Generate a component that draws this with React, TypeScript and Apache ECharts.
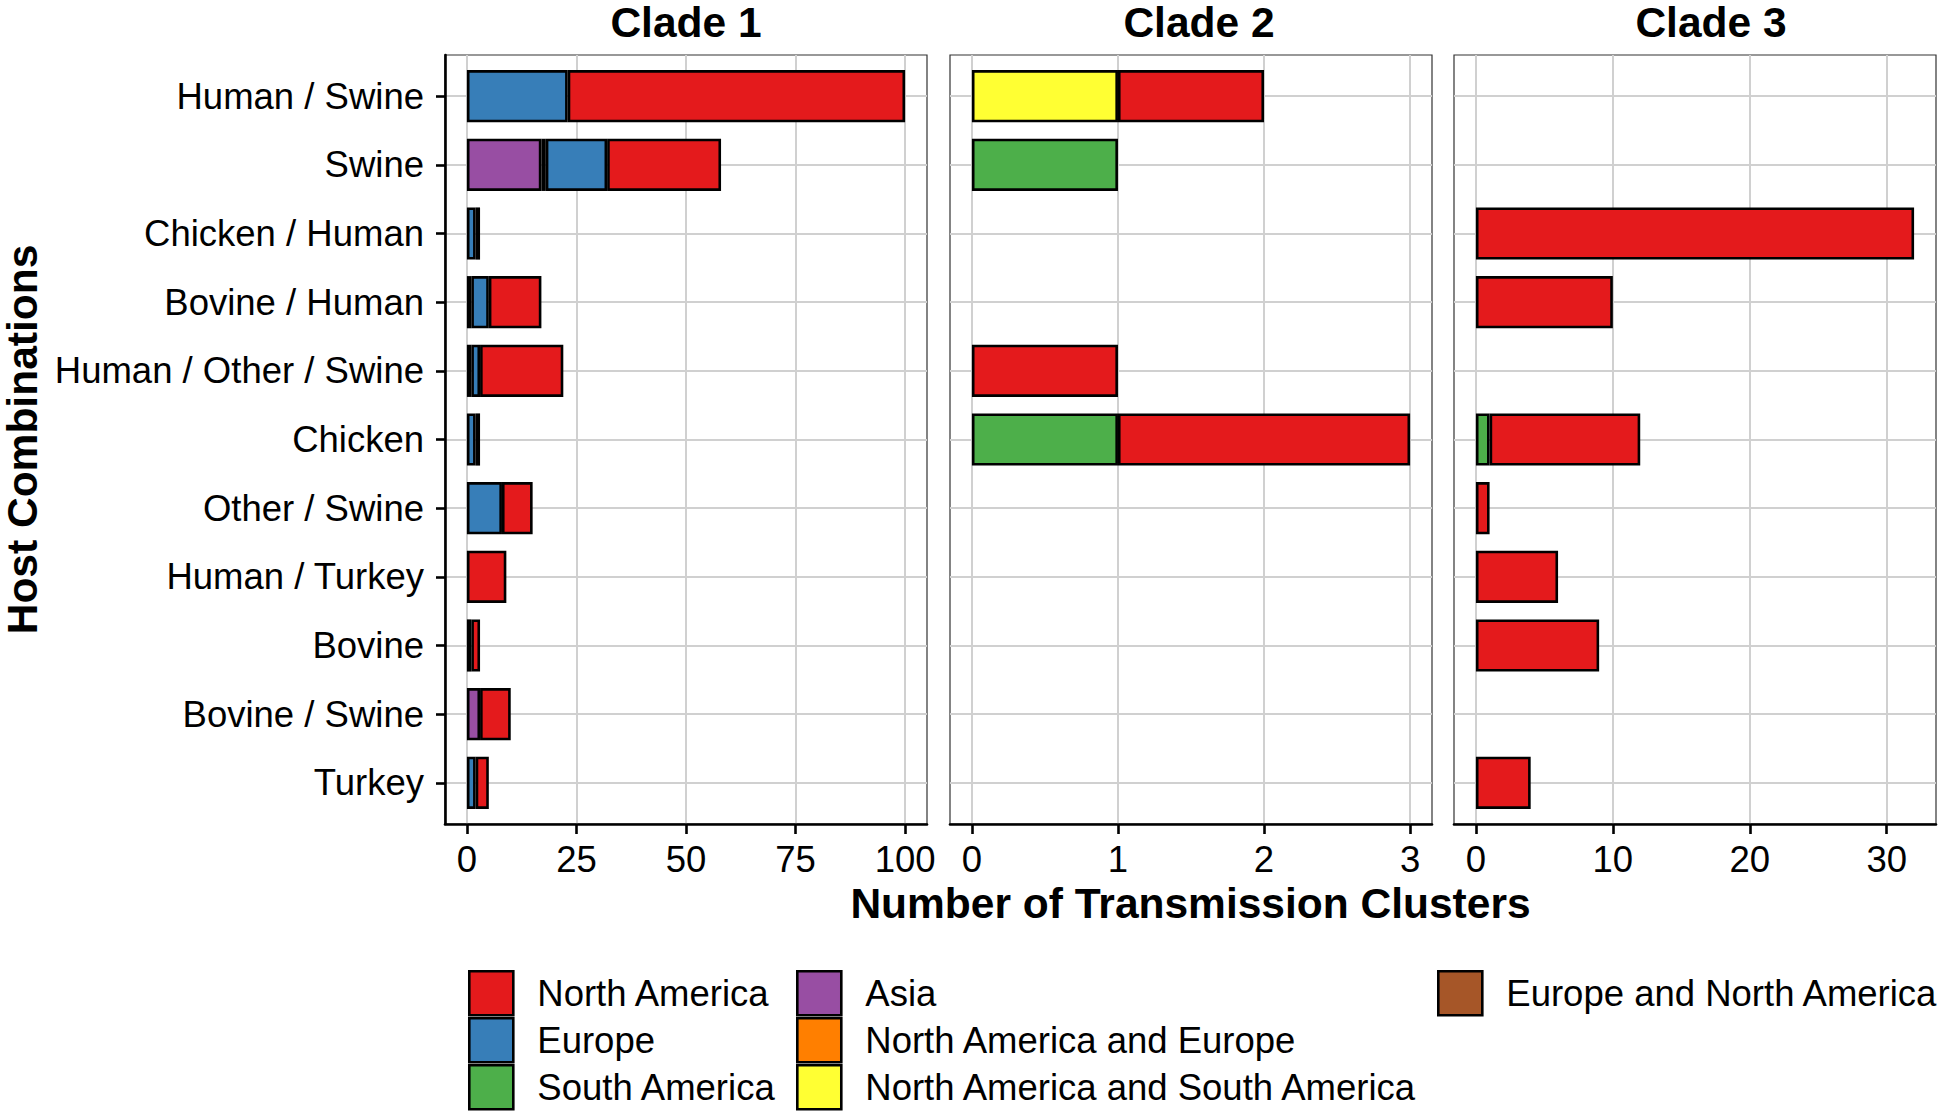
import React, { useEffect, useRef } from 'react';
import * as echarts from 'echarts';

// ---------- data ----------
const categories = [
  'Human / Swine',
  'Swine',
  'Chicken / Human',
  'Bovine / Human',
  'Human / Other / Swine',
  'Chicken',
  'Other / Swine',
  'Human / Turkey',
  'Bovine',
  'Bovine / Swine',
  'Turkey',
];

const regions = [
  'North America',
  'Europe',
  'South America',
  'Asia',
  'North America and Europe',
  'North America and South America',
  'Europe and North America',
];
const regionColors = ['#E41A1C', '#377EB8', '#4DAF4A', '#984EA3', '#FF7F00', '#FFFF33', '#A65628'];

const cladeNames = ['Clade 1', 'Clade 2', 'Clade 3'];

// Clade 1 (order of categories above)
const clade1NorthAmerica = [77, 26, 1, 12, 19, 1, 7, 9, 2, 7, 3];
const clade1Europe = [23, 14, 2, 4, 2, 2, 8, 0, 0, 0, 2];
const clade1SouthAmerica = [0, 1, 0, 0, 0, 0, 0, 0, 0, 0, 0];
const clade1Asia = [0, 17, 0, 0, 0, 0, 0, 0, 1, 3, 0];
const clade1NAEurope = [0, 0, 0, 0, 0, 0, 0, 0, 0, 0, 0];
const clade1NASouthAmerica = [0, 0, 0, 0, 0, 0, 0, 0, 0, 0, 0];
const clade1EuropeNA = [0, 0, 0, 1, 1, 0, 0, 0, 0, 0, 0];

// Clade 2
const clade2NorthAmerica = [1, 0, 0, 0, 1, 2, 0, 0, 0, 0, 0];
const clade2Europe = [0, 0, 0, 0, 0, 0, 0, 0, 0, 0, 0];
const clade2SouthAmerica = [0, 1, 0, 0, 0, 1, 0, 0, 0, 0, 0];
const clade2Asia = [0, 0, 0, 0, 0, 0, 0, 0, 0, 0, 0];
const clade2NAEurope = [0, 0, 0, 0, 0, 0, 0, 0, 0, 0, 0];
const clade2NASouthAmerica = [1, 0, 0, 0, 0, 0, 0, 0, 0, 0, 0];
const clade2EuropeNA = [0, 0, 0, 0, 0, 0, 0, 0, 0, 0, 0];

// Clade 3
const clade3NorthAmerica = [0, 0, 32, 10, 0, 11, 1, 6, 9, 0, 4];
const clade3Europe = [0, 0, 0, 0, 0, 0, 0, 0, 0, 0, 0];
const clade3SouthAmerica = [0, 0, 0, 0, 0, 1, 0, 0, 0, 0, 0];
const clade3Asia = [0, 0, 0, 0, 0, 0, 0, 0, 0, 0, 0];
const clade3NAEurope = [0, 0, 0, 0, 0, 0, 0, 0, 0, 0, 0];
const clade3NASouthAmerica = [0, 0, 0, 0, 0, 0, 0, 0, 0, 0, 0];
const clade3EuropeNA = [0, 0, 0, 0, 0, 0, 0, 0, 0, 0, 0];

const clade1Ticks = [0, 25, 50, 75, 100];
const clade2Ticks = [0, 1, 2, 3];
const clade3Ticks = [0, 10, 20, 30];

const xAxisTitle = 'Number of Transmission Clusters';
const yAxisTitle = 'Host Combinations';

// ---------- assembly ----------
const cladeData = [
  [clade1NorthAmerica, clade1Europe, clade1SouthAmerica, clade1Asia, clade1NAEurope, clade1NASouthAmerica, clade1EuropeNA],
  [clade2NorthAmerica, clade2Europe, clade2SouthAmerica, clade2Asia, clade2NAEurope, clade2NASouthAmerica, clade2EuropeNA],
  [clade3NorthAmerica, clade3Europe, clade3SouthAmerica, clade3Asia, clade3NAEurope, clade3NASouthAmerica, clade3EuropeNA],
];
const cladeTicks = [clade1Ticks, clade2Ticks, clade3Ticks];

const FONT = '"Liberation Sans", Arial, Helvetica, sans-serif';
const TEXT_SIZE = 36.5;
const TITLE_SIZE = 42.5;
const panelLeft = [445, 950, 1454];
const panelWidth = 482;
const panelTop = 55;
const panelHeight = 769;
const band = panelHeight / (categories.length - 1 + 1.2);
const gridColor = '#d0d0d0';
const titleCenters = [686, 1199, 1711];

function buildOption() {
  const grid: any[] = [];
  const xAxis: any[] = [];
  const yAxis: any[] = [];
  const series: any[] = [];
  const catIdx = categories.map((_, i) => i);

  panelLeft.forEach((l) => {
    grid.push({
      left: l, top: panelTop, width: panelWidth, height: panelHeight,
      show: true, borderColor: '#333333', borderWidth: 1.2, backgroundColor: 'transparent',
      containLabel: false, outerBoundsMode: 'none',
    });
  });
  panelLeft.forEach((l) => {
    grid.push({
      left: l, top: panelTop + 0.1 * band, width: panelWidth, height: band * categories.length,
      show: false, containLabel: false, outerBoundsMode: 'none',
    });
  });

  cladeData.forEach((regionsData, k) => {
    const totals = categories.map((_, i) => regionsData.reduce((s, arr) => s + arr[i], 0));
    const maxTotal = Math.max(...totals);
    const min = -0.05 * maxTotal;
    const max = maxTotal * 1.05;
    const ticks = cladeTicks[k];

    xAxis.push({
      type: 'value', gridIndex: k, min, max,
      axisLine: { show: true, onZero: false, lineStyle: { color: '#000', width: 2.6 } },
      axisTick: { show: true, length: 10, customValues: ticks, lineStyle: { color: '#000', width: 2.6 } },
      axisLabel: { show: true, customValues: ticks, fontSize: TEXT_SIZE, fontFamily: FONT, color: '#000', margin: 17 },
      splitLine: { show: true, lineStyle: { color: gridColor, width: 2 } },
    });
    yAxis.push({
      type: 'value', gridIndex: k, inverse: true, min: -0.6, max: categories.length - 1 + 0.6,
      axisLine: { show: k === 0, onZero: false, lineStyle: { color: '#000', width: 2.6 } },
      axisTick: { show: k === 0, length: 9, customValues: catIdx, lineStyle: { color: '#000', width: 2.6 } },
      axisLabel: {
        show: k === 0, customValues: catIdx, fontSize: TEXT_SIZE, fontFamily: FONT, color: '#000', margin: 21,
        formatter: (v: number) => categories[Math.round(v)] ?? '',
      },
      splitLine: { show: true, lineStyle: { color: gridColor, width: 2 } },
    });
  });

  cladeData.forEach((regionsData, k) => {
    const totals = categories.map((_, i) => regionsData.reduce((s, arr) => s + arr[i], 0));
    const maxTotal = Math.max(...totals);
    xAxis.push({ type: 'value', gridIndex: 3 + k, min: -0.05 * maxTotal, max: maxTotal * 1.05, show: false });
    yAxis.push({ type: 'category', gridIndex: 3 + k, data: categories, inverse: true, show: false });

    for (let r = regions.length - 1; r >= 0; r--) {
      series.push({
        type: 'bar',
        name: regions[r],
        xAxisIndex: 3 + k,
        yAxisIndex: 3 + k,
        stack: 'clade' + k,
        barWidth: '76%',
        silent: true,
        data: regionsData[r].map((v) => (v === 0 ? '-' : v)),
        itemStyle: { color: regionColors[r], borderColor: '#000', borderWidth: 2.6 },
        emphasis: { disabled: true },
      });
    }
  });

  // legend: three columns, laid out column by column
  const legendColumns = [[0, 1, 2], [3, 4, 5], [6]];
  const legendLefts = [468, 796, 1437];
  const legendRowTops = [970, 1017, 1064];
  const legend: any[] = [];
  legendColumns.forEach((col, c) => {
    col.forEach((r, row) => {
      legend.push({
        orient: 'vertical',
        left: legendLefts[c],
        top: legendRowTops[row],
        padding: 0,
        itemGap: 0,
        itemWidth: 44,
        itemHeight: 44,
        icon: 'rect',
        selectedMode: false,
        data: [regions[r]],
        textStyle: { fontSize: TEXT_SIZE, fontFamily: FONT, color: '#000', padding: [0, 0, 0, 19] },
        itemStyle: { borderColor: '#000', borderWidth: 2.6 },
      });
    });
  });

  const graphic: any[] = [];
  cladeNames.forEach((name, k) => {
    graphic.push({
      type: 'text',
      x: titleCenters[k],
      y: 22,
      silent: true,
      style: { text: name, font: `bold ${TITLE_SIZE}px ${FONT}`, fill: '#000', align: 'center', verticalAlign: 'middle' },
    });
  });
  graphic.push({
    type: 'text',
    x: (panelLeft[0] + panelLeft[2] + panelWidth) / 2,
    y: 903,
    silent: true,
    style: { text: xAxisTitle, font: `bold ${TITLE_SIZE}px ${FONT}`, fill: '#000', align: 'center', verticalAlign: 'middle' },
  });
  graphic.push({
    type: 'text',
    x: 22,
    y: panelTop + panelHeight / 2,
    rotation: Math.PI / 2,
    silent: true,
    style: { text: yAxisTitle, font: `bold ${TITLE_SIZE}px ${FONT}`, fill: '#000', align: 'center', verticalAlign: 'middle' },
  });

  return {
    animation: false,
    backgroundColor: '#ffffff',
    grid,
    xAxis,
    yAxis,
    series,
    legend,
    graphic,
  };
}

export default function App() {
  const ref = useRef<HTMLDivElement>(null);
  useEffect(() => {
    if (!ref.current) return;
    const chart = echarts.init(ref.current, null, { renderer: 'svg' });
    chart.setOption(buildOption() as any);
    return () => chart.dispose();
  }, []);
  return (
    <div
      ref={ref}
      style={{ position: 'absolute', left: 0, top: 0, width: 1944, height: 1112, background: '#fff' }}
    />
  );
}
